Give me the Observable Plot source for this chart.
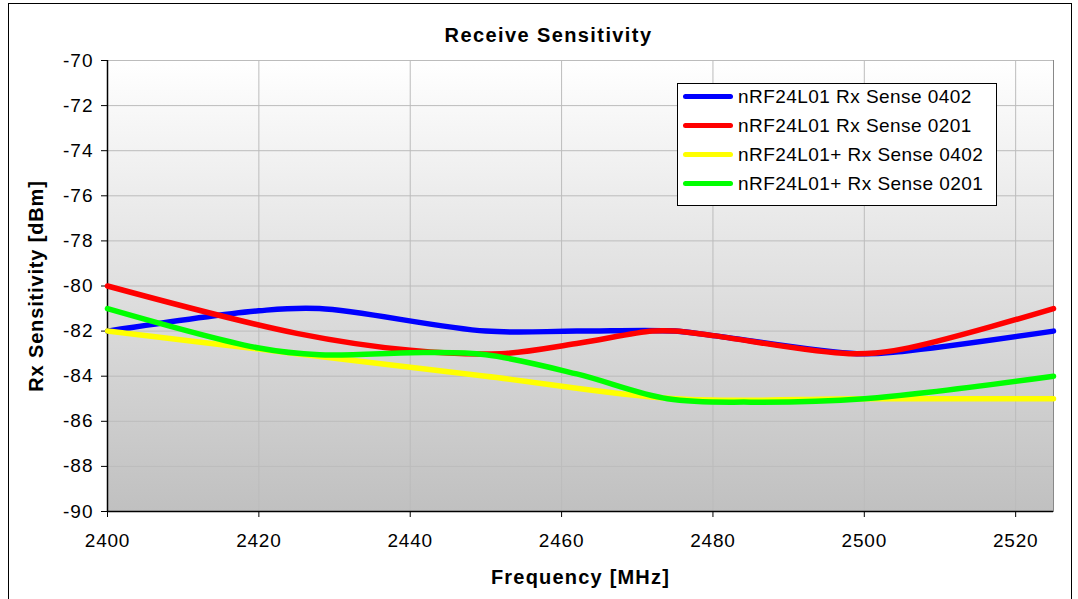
<!DOCTYPE html>
<html>
<head>
<meta charset="utf-8">
<script src="https://cdn.jsdelivr.net/npm/d3@7"></script>
<script src="https://cdn.jsdelivr.net/npm/@observablehq/plot@0.6"></script>
<style>
  html, body { margin: 0; padding: 0; background: #fff; }
  #wrap { position: relative; width: 1078px; height: 599px; overflow: hidden; font-family: "Liberation Sans", Arial, sans-serif; }
  #border { position: absolute; left: 8px; top: 3px; width: 1064px; height: 620px; border: 1px solid #000; box-sizing: border-box; pointer-events: none; }
  #legend { position: absolute; left: 677px; top: 83px; width: 320px; height: 123px; border: 1px solid #000; background: #fff; box-sizing: border-box; padding-top: 0; }
  #legend .inner { margin-top: -2px; }
  .row { display: flex; align-items: center; height: 29px; }
  .sw { width: 50px; height: 5px; border-radius: 3px; margin-left: 5px; margin-right: 5px; }
  .lab { font-size: 19px; letter-spacing: 0.45px; color: #000; white-space: nowrap; }
</style>
</head>
<body>
<div id="wrap"><div id="chart"></div><div id="legend"><div class="inner"></div></div><div id="border"></div></div>
<script>
const titleText = "Receive Sensitivity";
const xTitle = "Frequency [MHz]";
const yTitle = "Rx Sensitivity [dBm]";
const seriesNames = ["nRF24L01 Rx Sense 0402", "nRF24L01 Rx Sense 0201", "nRF24L01+ Rx Sense 0402", "nRF24L01+ Rx Sense 0201"];
const seriesColors = ["#0000ff", "#ff0000", "#ffff00", "#00ff00"];
const xTicks = [2400, 2420, 2440, 2460, 2480, 2500, 2520];
const yTicks = [-90, -88, -86, -84, -82, -80, -78, -76, -74, -72, -70];

const freqL01_0402 = [2400, 2420, 2428, 2450, 2462, 2475, 2480, 2499, 2505, 2525];
const sensL01_0402 = [-82, -81.1, -81, -82, -82, -82, -82.2, -83, -82.9, -82];
const freqL01_0201 = [2400, 2425, 2440, 2452, 2462, 2472, 2475, 2480, 2498, 2505, 2525];
const sensL01_0201 = [-80, -82.1, -82.85, -83, -82.55, -82, -82, -82.2, -83, -82.8, -81];
const freqP_0402 = [2400, 2425, 2450, 2475, 2500, 2525];
const sensP_0402 = [-82, -83, -84, -85, -85, -85];
const freqP_0201 = [2400, 2420, 2428, 2442, 2450, 2462, 2474, 2485, 2500, 2525];
const sensP_0201 = [-81, -82.75, -83.05, -82.95, -83.05, -83.9, -85, -85.15, -85, -84];

const seriesFreq = [freqL01_0402, freqL01_0201, freqP_0402, freqP_0201];
const seriesSens = [sensL01_0402, sensL01_0201, sensP_0402, sensP_0201];
const rows = [];
seriesNames.forEach((name, i) => {
  seriesFreq[i].forEach((f, j) => rows.push({series: name, freq: f, sens: seriesSens[i][j]}));
});

const defs = () => {
  const d = d3.create("svg:defs");
  const g = d.append("linearGradient").attr("id", "bg").attr("x1", 0).attr("y1", 0).attr("x2", 0).attr("y2", 1);
  g.append("stop").attr("offset", "0%").attr("stop-color", "#ffffff");
  g.append("stop").attr("offset", "100%").attr("stop-color", "#c0c0c0");
  return d.node();
};

const fmt = d => String(d);

const chart = Plot.plot({
  width: 1078,
  height: 599,
  marginLeft: 107,
  marginRight: 25,
  marginTop: 60,
  marginBottom: 88,
  style: {fontFamily: "'Liberation Sans', Arial, sans-serif", fontSize: "19px", color: "#000", background: "transparent", overflow: "visible"},
  x: {domain: [2400, 2525]},
  y: {domain: [-90, -70]},
  color: {domain: seriesNames, range: seriesColors},
  marks: [
    defs,
    Plot.frame({fill: "url(#bg)", stroke: "#888"}),
    Plot.gridY(yTicks, {stroke: "#bcbcbc", strokeOpacity: 1}),
    Plot.gridX(xTicks, {stroke: "#bcbcbc", strokeOpacity: 1}),
    Plot.axisY(yTicks, {tickSize: 6, tickPadding: 8, tickFormat: fmt, label: null, fontSize: 19, stroke: "#000"}),
    Plot.axisX(xTicks, {tickSize: 6, tickPadding: 16, tickFormat: fmt, label: null, fontSize: 19, stroke: "#000"}),
    Plot.ruleX([2400], {stroke: "#000", strokeWidth: 1.5}),
    Plot.ruleY([-90], {stroke: "#000", strokeWidth: 1.5}),
    Plot.line(rows, {x: "freq", y: "sens", z: "series", stroke: "series", strokeWidth: 5.5, curve: "catmull-rom", strokeLinecap: "round", strokeLinejoin: "round"}),
    Plot.text([titleText], {frameAnchor: "top", dx: -32, dy: -25, lineAnchor: "middle", textAnchor: "middle", fontWeight: "bold", fontSize: 20}),
    Plot.text([xTitle], {frameAnchor: "bottom", dy: 66, lineAnchor: "middle", textAnchor: "middle", fontWeight: "bold", fontSize: 20}),
    Plot.text([yTitle], {frameAnchor: "left", dx: -71, rotate: -90, lineAnchor: "middle", textAnchor: "middle", fontWeight: "bold", fontSize: 20})
  ]
});
const xTickStr = xTicks.map(String), yTickStr = yTicks.map(String);
chart.querySelectorAll("text").forEach(t => {
  const s = t.textContent;
  let ls = null;
  if (s === titleText) ls = "1.4px";
  else if (s === xTitle) ls = "1.2px";
  else if (s === yTitle) ls = "0.85px";
  else if (xTickStr.includes(s)) ls = "0.8px";
  else if (yTickStr.includes(s)) ls = "1px";
  if (ls) { t.setAttribute("letter-spacing", ls); t.style.letterSpacing = ls; }
});
document.getElementById("chart").appendChild(chart);

const legend = d3.select("#legend .inner");
seriesNames.forEach((name, i) => {
  const r = legend.append("div").attr("class", "row");
  r.append("div").attr("class", "sw").style("background", seriesColors[i]);
  r.append("div").attr("class", "lab").text(name);
});
</script>
</body>
</html>
